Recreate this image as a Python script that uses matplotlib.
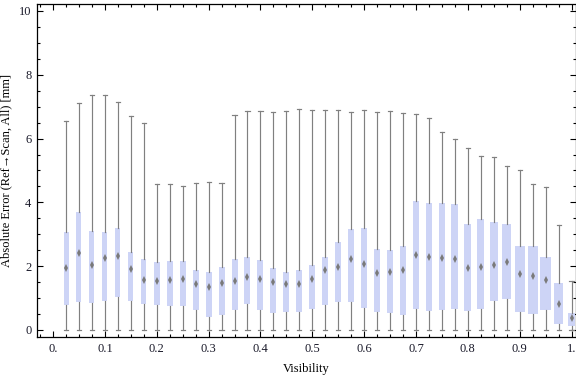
import numpy as np
import matplotlib
matplotlib.use("Agg")
import matplotlib.pyplot as plt
from matplotlib.ticker import MultipleLocator

plt.rcParams["font.family"] = ["Liberation Serif", "DejaVu Serif"]
plt.rcParams["font.size"] = 9

# visibility bins (box centres)
visibility = [0.025 * k for k in range(1, 41)]

q1 = [0.77, 0.87, 0.84, 0.90, 1.03, 0.90, 0.81, 0.78, 0.74, 0.74,
      0.62, 0.40, 0.48, 0.62, 0.81, 0.63, 0.53, 0.56, 0.56, 0.65,
      0.78, 0.87, 0.87, 0.68, 0.56, 0.53, 0.46, 0.65, 0.59, 0.62,
      0.65, 0.59, 0.65, 0.90, 0.96, 0.56, 0.49, 0.62, 0.18, 0.12]
median = [1.95, 2.40, 2.04, 2.25, 2.33, 1.91, 1.58, 1.54, 1.58, 1.60,
          1.44, 1.34, 1.47, 1.55, 1.65, 1.59, 1.49, 1.45, 1.44, 1.59,
          1.87, 1.99, 2.21, 2.07, 1.78, 1.81, 1.88, 2.36, 2.30, 2.27,
          2.23, 1.93, 1.99, 2.05, 2.12, 1.77, 1.69, 1.56, 0.80, 0.37]
q3 = [3.06, 3.71, 3.11, 3.08, 3.20, 2.45, 2.23, 2.12, 2.17, 2.17,
      1.89, 1.83, 1.98, 2.23, 2.30, 2.20, 1.95, 1.83, 1.89, 2.05,
      2.30, 2.77, 3.17, 3.20, 2.55, 2.52, 2.64, 4.05, 3.98, 3.98,
      3.95, 3.33, 3.48, 3.39, 3.33, 2.64, 2.64, 2.30, 1.47, 0.53]
whisker_low = [0.0] * 40
whisker_high = [6.56, 7.12, 7.37, 7.37, 7.16, 6.72, 6.49, 4.57, 4.59, 4.50,
                4.61, 4.64, 4.61, 6.74, 6.86, 6.86, 6.83, 6.86, 6.92, 6.89,
                6.89, 6.89, 6.83, 6.89, 6.83, 6.86, 6.80, 6.77, 6.64, 6.20,
                5.98, 5.70, 5.45, 5.41, 5.13, 5.01, 4.57, 4.47, 3.30, 1.55]
# relative bin sizes as drawn (box widths)
box_px = [5, 5, 5, 5, 5, 5, 5, 5.7, 5.7, 5.7,
          6, 6, 6, 6, 6, 6, 6, 6, 6, 6,
          6, 6, 6, 6, 6, 6, 6, 6.3, 6.3, 6,
          7, 7, 7, 8, 8.7, 10, 10, 11, 8.3, 6.3]

stats = []
for lo, a, m, b, hi in zip(whisker_low, q1, median, q3, whisker_high):
    stats.append({"whislo": lo, "q1": a, "med": m, "q3": b, "whishi": hi, "fliers": []})

widths = [p / 518.0 for p in box_px]

fig = plt.figure(figsize=(5.76, 3.77), dpi=100)
ax = fig.add_axes([0.0642, 0.1061, 0.9350, 0.8825])

gray = "#808080"
ax.bxp(stats, positions=visibility, widths=widths, capwidths=0.008,
       patch_artist=True, showfliers=False,
       boxprops=dict(facecolor="#cdd4f6", edgecolor="none", linewidth=0),
       whiskerprops=dict(color=gray, linewidth=0.85),
       capprops=dict(color=gray, linewidth=0.85),
       medianprops=dict(visible=False),
       manage_ticks=False, zorder=2)
ax.plot(visibility, median, linestyle="none", marker="d", markersize=3.6,
        color="#7a7a7a", markeredgewidth=0, zorder=3)

ax.set_xlim(-0.031, 1.0077)
ax.set_ylim(-0.22, 10.21)

xticks = [0.0, 0.1, 0.2, 0.3, 0.4, 0.5, 0.6, 0.7, 0.8, 0.9, 1.0]
xlabels = ["0.", "0.1", "0.2", "0.3", "0.4", "0.5", "0.6", "0.7", "0.8", "0.9", "1."]
ax.set_xticks(xticks)
ax.set_xticklabels(xlabels)
ax.set_yticks([0, 2, 4, 6, 8, 10])
ax.xaxis.set_minor_locator(MultipleLocator(0.025))
ax.yaxis.set_minor_locator(MultipleLocator(0.5))

ax.tick_params(which="both", direction="in", top=True, right=True,
               colors="black", labelcolor="#1a1a2a", width=0.8)
ax.tick_params(which="major", length=4, pad=4)
ax.tick_params(which="minor", length=2.5)
for s in ax.spines.values():
    s.set_linewidth(0.9)

ax.set_xlabel("Visibility", labelpad=6)
ax.set_ylabel("Absolute Error (Ref\u2192Scan, All) [mm]", labelpad=5)

fig.savefig("out.png", dpi=100)
